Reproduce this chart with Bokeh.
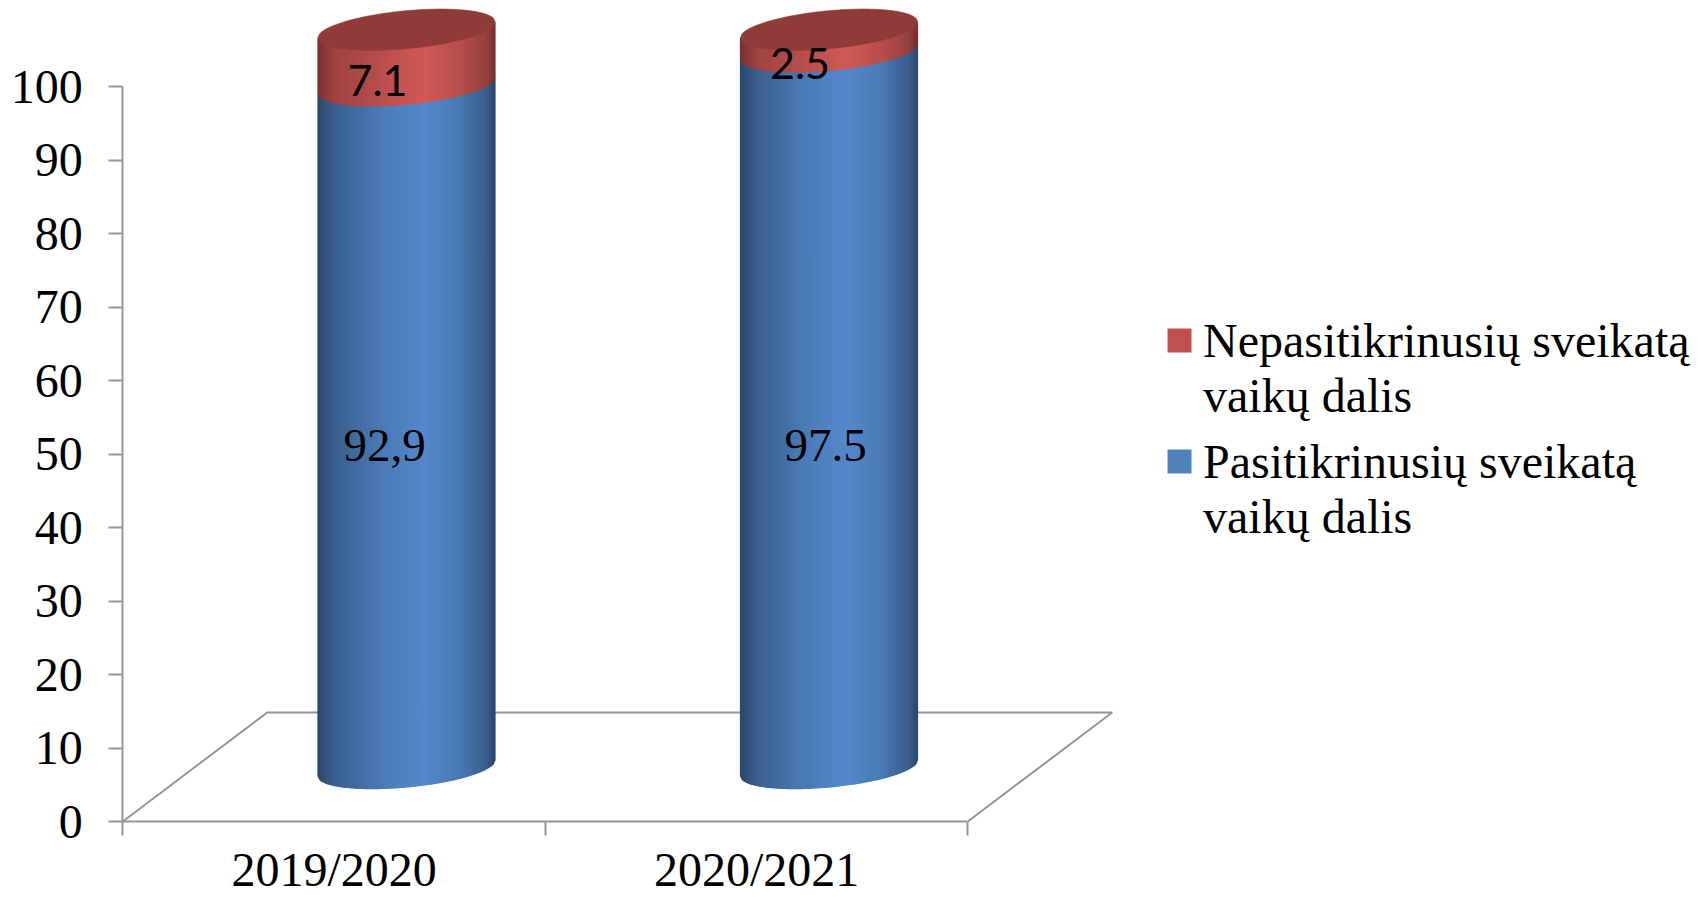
import numpy as np
from bokeh.plotting import figure
from bokeh.models import (ColumnDataSource, FixedTicker, Legend, LegendItem, Range1d)
from bokeh.core.properties import value
from bokeh.embed import file_html
from bokeh.resources import INLINE

categories = ["2019/2020", "2020/2021"]
checked = [92.9, 97.5]
unchecked = [7.1, 2.5]
checked_labels = ["92,9", "97.5"]
unchecked_labels = ["7.1", "2.5"]
y_ticks = [0, 10, 20, 30, 40, 50, 60, 70, 80, 90, 100]
legend_red = ["Nepasitikrinusių sveikatą", "vaikų dalis"]
legend_blue = ["Pasitikrinusių sveikatą", "vaikų dalis"]

SERIF = "Liberation Serif"
GREY = "#969696"
W, H = 1699, 897
LEFT, BASE_Y = 122.3, 821
PX_X, PX_Y = 422.5, 7.35     # pixels per category / per percentage point

p = figure(width=W, height=H, output_backend="svg", toolbar_location=None,
           x_range=Range1d((0 - LEFT) / PX_X, (W - LEFT) / PX_X),
           y_range=Range1d((BASE_Y - H) / PX_Y, BASE_Y / PX_Y),
           min_border_left=0, min_border_right=0, min_border_top=0, min_border_bottom=0)
p.grid.visible = False
p.outline_line_color = None
p.background_fill_color = "white"

# axes
ya = p.yaxis[0]
ya.fixed_location = 0
ya.ticker = FixedTicker(ticks=y_ticks)
ya.bounds = (0, 100)
ya.axis_line_color = GREY
ya.axis_line_width = 2
ya.major_tick_line_color = GREY
ya.major_tick_line_width = 2
ya.major_tick_out = 14
ya.major_tick_in = 0
ya.minor_tick_line_color = None
ya.major_label_text_font = SERIF
ya.major_label_text_font_size = "48px"
ya.major_label_text_color = "black"
ya.major_label_standoff = 26

xa = p.xaxis[0]
xa.fixed_location = 0
xa.ticker = FixedTicker(ticks=[0.5, 1.5], minor_ticks=[0, 1, 2])
xa.major_label_overrides = {0.5: categories[0], 1.5: categories[1]}
xa.bounds = (0, 2)
xa.axis_line_color = GREY
xa.axis_line_width = 2
xa.major_tick_line_color = None
xa.major_tick_out = 0
xa.major_tick_in = 0
xa.minor_tick_line_color = GREY
xa.minor_tick_line_width = 2
xa.minor_tick_out = 14
xa.minor_tick_in = 0
xa.major_label_text_font = SERIF
xa.major_label_text_font_size = "48px"
xa.major_label_text_color = "black"
xa.major_label_standoff = 7

# 3-D floor (depth offset expressed through the scales)
DX, DY = 144.4 / PX_X, 109 / PX_Y
p.line([0, DX, 2 + DX, 2], [0, DY, DY, 0], line_color=GREY, line_width=2)

# cylinders
BLUE_STOPS = [(0, "#2b476d"), (.1, "#3b6190"), (.35, "#4a7ab5"), (.6, "#5588cc"),
              (.8, "#4a7ab3"), (.95, "#3a5f8c"), (1, "#2b476d")]
RED_STOPS = [(0, "#763130"), (.1, "#a04543"), (.35, "#b84e4c"), (.6, "#d05955"),
             (.8, "#b84f4c"), (.95, "#974240"), (1, "#763130")]


def ramp(stops, u):
    pos = [s[0] for s in stops]
    rgb = [[int(s[1][i:i + 2], 16) for i in (1, 3, 5)] for s in stops]
    return "#%02x%02x%02x" % tuple(int(np.interp(u, pos, [c[k] for c in rgb])) for k in range(3))


CENTERS = [(406 - LEFT) / PX_X, (828.5 - LEFT) / PX_X]
HALF = 88.5 / PX_X
BASE_V = (BASE_Y - 767.5) / PX_Y      # level of the cylinder base centre
SHEAR = 8 / PX_Y
MINOR = 19 / PX_Y
CAP_LIFT = 0.45
N = 90


def back_edge(t, level):
    return level + SHEAR * t + MINOR * np.sqrt(np.clip(1 - t * t, 0, 1))


def front_edge(t, level):
    return level + SHEAR * t - MINOR * np.sqrt(np.clip(1 - t * t, 0, 1))


ts = np.linspace(-1, 1, N + 1)
xs, ys, cols = [], [], []
for cx, v_blue, v_red in zip(CENTERS, checked, unchecked):
    for lo, hi, stops in [(0, v_blue, BLUE_STOPS), (v_blue, v_blue + v_red + CAP_LIFT, RED_STOPS)]:
        for i in range(N):
            a, b = ts[i], ts[i + 1]
            xs.append([cx + HALF * a, cx + HALF * b, cx + HALF * b, cx + HALF * a])
            ys.append([front_edge(a, BASE_V + lo), front_edge(b, BASE_V + lo),
                       front_edge(b, BASE_V + hi), front_edge(a, BASE_V + hi)])
            cols.append(ramp(stops, (i + .5) / N))
src = ColumnDataSource(dict(xs=xs, ys=ys, c=cols))
p.patches("xs", "ys", source=src, fill_color="c", line_color="c", line_width=1.2)

# top caps
tt = np.linspace(-1, 1, 121)
cap_x, cap_y = [], []
for cx, v_blue, v_red in zip(CENTERS, checked, unchecked):
    lv = BASE_V + v_blue + v_red + CAP_LIFT
    cap_x.append(list(cx + HALF * tt) + list(cx + HALF * tt[::-1]))
    cap_y.append(list(front_edge(tt, lv)) + list(back_edge(tt[::-1], lv)))
p.patches(cap_x, cap_y, fill_color="#8f3b39", line_color="#8f3b39", line_width=0.6)

# value labels
blue_lx = [(384 - LEFT) / PX_X, (825 - LEFT) / PX_X]
blue_ly = [(BASE_Y - 445) / PX_Y] * 2
red_lx = [(377 - LEFT) / PX_X, (799.5 - LEFT) / PX_X]
red_ly = [(BASE_Y - 80) / PX_Y, (BASE_Y - 62.5) / PX_Y]
p.text(blue_lx, blue_ly, text=checked_labels, text_font=value(SERIF), text_font_size="47px",
       text_color="black", text_align="center", text_baseline="middle")
p.text(red_lx, red_ly, text=unchecked_labels, text_font=value("Lato"), text_font_size="43px",
       text_color="black", text_align="center", text_baseline="middle")

# legend: the swatch sits beside the first line of each two-line entry
r_red = p.vbar(x=[-50], top=[-200], bottom=[-300], width=0.1, fill_color="#c0504d", line_color=None)
r_blue = p.vbar(x=[-50], top=[-200], bottom=[-300], width=0.1, fill_color="#4f81bd", line_color=None)
r_none = p.vbar(x=[-50], top=[-200], bottom=[-300], width=0.1, fill_alpha=0, line_color=None)


def make_legend(lines, swatch, bottom_px):
    return Legend(items=[LegendItem(label=lines[0], renderers=[swatch]),
                         LegendItem(label=lines[1], renderers=[r_none])],
                  location=(1164, H - bottom_px), orientation="vertical",
                  background_fill_alpha=0, border_line_color=None, padding=0, margin=0,
                  glyph_width=30, glyph_height=30, label_standoff=9, spacing=0,
                  label_text_font=SERIF, label_text_font_size="48px", label_text_color="black")


p.add_layout(make_legend(legend_red, r_red, 422.5), "center")
p.add_layout(make_legend(legend_blue, r_blue, 543.5), "center")

open("out.html", "w").write(file_html(p, INLINE))
